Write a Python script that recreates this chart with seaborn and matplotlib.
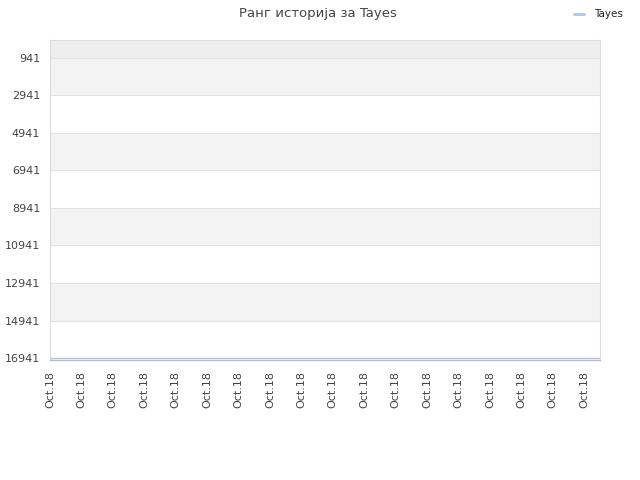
import numpy as np
import pandas as pd
import matplotlib
matplotlib.use("Agg")
import matplotlib.pyplot as plt
import seaborn as sns

# =========================
# DATA
# =========================

dates = ["Oct.18"] * 36
ranks = [16941] * 36
yticks = [941, 2941, 4941, 6941, 8941, 10941, 12941, 14941, 16941]

df = pd.DataFrame({"x": np.arange(len(dates)), "rank": ranks})

# =========================
# PLOT
# =========================

sns.set_style("white")
plt.rcParams["font.family"] = ["DejaVu Sans"]

fig = plt.figure(figsize=(6.4, 4.8), dpi=100)
ax = fig.add_axes([0.078, 0.25, 0.8595, 0.6667])

# alternating bands
ax.axhspan(-100, yticks[0], color="#eeeeee", zorder=0, lw=0)
for i in range(len(yticks) - 1):
    c = "#f3f3f3" if i % 2 == 0 else "#ffffff"
    ax.axhspan(yticks[i], yticks[i + 1], color=c, zorder=0, lw=0)

for t in yticks[:-1]:
    ax.axhline(t, color="#e2e2e2", lw=0.8, zorder=1)

sns.lineplot(data=df, x="x", y="rank", ax=ax, color="#a6c8ee",
             lw=1.0, label="Tayes", zorder=3)

ax.set_ylim(17040, 0)
ax.set_xlim(df["x"].min(), df["x"].max())
ax.set_yticks(yticks)
ax.set_yticklabels([str(t) for t in yticks], fontsize=8, color="#444444")
ax.set_xticks(df["x"][::2])
ax.set_xticklabels(dates[::2], rotation=90, fontsize=8, color="#444444")
ax.set_xlabel("")
ax.set_ylabel("")
ax.tick_params(axis="y", length=0, pad=7)
ax.tick_params(axis="x", length=0, pad=8)

for s in ["top", "right", "left"]:
    ax.spines[s].set_color("#dddddd")
    ax.spines[s].set_linewidth(0.8)
ax.spines["bottom"].set_color("#bbbbbb")
ax.spines["bottom"].set_linewidth(1.0)

fig.suptitle("Ранг историја за Tayes", x=0.497, y=0.985, fontsize=9.5,
             color="#444444")

leg = ax.legend(loc="upper right", bbox_to_anchor=(1.058, 1.125), frameon=False,
                fontsize=7.5, handlelength=1.0, handletextpad=0.9)
for t in leg.get_texts():
    t.set_color("#222222")
for h in leg.get_lines():
    h.set_linewidth(2.0)

fig.savefig("out.png", dpi=100)
